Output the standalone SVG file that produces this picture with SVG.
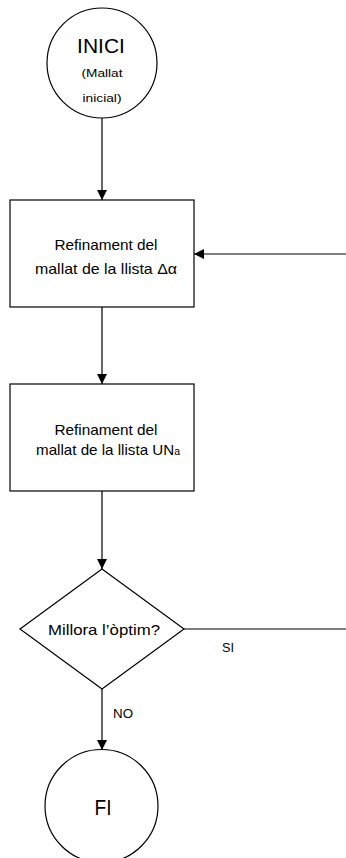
<svg xmlns="http://www.w3.org/2000/svg" width="346" height="858" viewBox="0 0 346 858">
  <style>
    .shape { fill: #ffffff; stroke: #000000; stroke-width: 1.2; }
    .line { fill: none; stroke: #000000; stroke-width: 1.2; }
    text { font-family: "Liberation Sans", Arial, sans-serif; fill: #000000; text-anchor: middle; }
    .t { font-size: 14.5px; }
    .s { font-size: 11.5px; }
  </style>
  <defs>
    <marker id="arrow" viewBox="0 0 10 10" refX="10" refY="5" markerWidth="10" markerHeight="10" markerUnits="userSpaceOnUse" orient="auto">
      <path d="M0,0 L10,5 L0,10 Z" fill="#000000"/>
    </marker>
  </defs>
  <rect width="346" height="858" fill="#ffffff"/>

  <g id="connectors">
    <line class="line" x1="102" y1="118" x2="102" y2="200" marker-end="url(#arrow)"/>
    <line class="line" x1="346" y1="254" x2="194" y2="254" marker-end="url(#arrow)"/>
    <line class="line" x1="102" y1="307" x2="102" y2="384" marker-end="url(#arrow)"/>
    <line class="line" x1="102" y1="491" x2="102" y2="569" marker-end="url(#arrow)"/>
    <line class="line" x1="184" y1="629" x2="346" y2="629"/>
    <line class="line" x1="102" y1="689" x2="102" y2="750" marker-end="url(#arrow)"/>
    <text x="228" y="652" font-size="12" textLength="12" lengthAdjust="spacingAndGlyphs">SI</text>
    <text x="123" y="718" font-size="13.5" textLength="20" lengthAdjust="spacingAndGlyphs">NO</text>
  </g>

  <g id="start">
    <circle class="shape" cx="102" cy="63" r="55"/>
    <text x="101" y="53" font-size="21">INICI</text>
    <text class="s" x="102" y="77" textLength="41" lengthAdjust="spacingAndGlyphs">(Mallat</text>
    <text class="s" x="102" y="102" textLength="39" lengthAdjust="spacingAndGlyphs">inicial)</text>
  </g>

  <g id="refine-delta">
    <rect class="shape" x="10" y="200" width="184" height="107"/>
    <text class="t" x="106" y="250" textLength="103" lengthAdjust="spacingAndGlyphs">Refinament del</text>
    <text class="t" x="106" y="274" textLength="142" lengthAdjust="spacingAndGlyphs">mallat de la llista Δα</text>
  </g>

  <g id="refine-un">
    <rect class="shape" x="10" y="384" width="184" height="107"/>
    <text class="t" x="106" y="435" textLength="103" lengthAdjust="spacingAndGlyphs">Refinament del</text>
    <text class="t" x="108" y="455" textLength="144" lengthAdjust="spacingAndGlyphs">mallat de la llista UN<tspan font-size="10">a</tspan></text>
  </g>

  <g id="decision">
    <polygon class="shape" points="102,569 184,629 102,689 20,629"/>
    <text class="t" x="104" y="635" textLength="112" lengthAdjust="spacingAndGlyphs">Millora l’òptim?</text>
  </g>

  <g id="end">
    <circle class="shape" cx="101.5" cy="806" r="56.5"/>
    <text x="103" y="815" font-size="22" textLength="17" lengthAdjust="spacingAndGlyphs">FI</text>
  </g>
</svg>
